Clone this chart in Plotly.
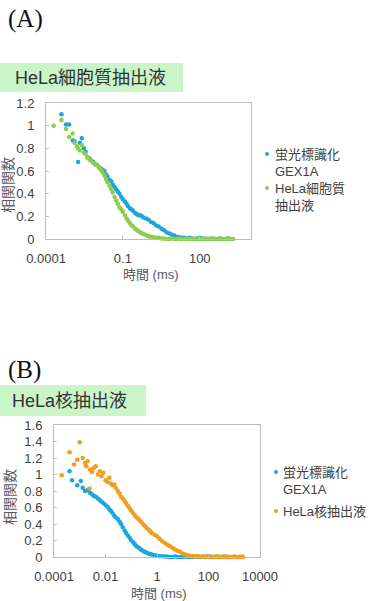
import plotly.graph_objects as go

# ---------------- data (time in ms, correlation values) ----------------
tA_blue = [0.0004, 0.0006, 0.0008, 0.0011, 0.0013, 0.0018, 0.0021, 0.0025, 0.003, 0.0035,
           0.0042, 0.005, 0.006, 0.007, 0.0083, 0.01, 0.012, 0.014, 0.016, 0.019,
           0.022, 0.025, 0.03, 0.035, 0.04, 0.047, 0.055, 0.063, 0.074, 0.087,
           0.1, 0.12, 0.14, 0.16, 0.19, 0.22, 0.25, 0.3, 0.35, 0.4,
           0.47, 0.55, 0.63, 0.8, 1.0, 1.25, 1.6, 2.0, 2.5, 3.2,
           4.0, 5.0, 6.3, 8.0, 10, 12.5, 16, 20, 25, 32,
           40, 50, 63, 80, 100, 125, 160, 200, 250, 320,
           400, 500, 630, 800, 1000, 1250, 1500]
gA_blue = [1.10, 1.01, 1.01, 0.87, 0.86, 0.68, 0.85, 0.89, 0.80, 0.77,
           0.72, 0.71, 0.69, 0.68, 0.66, 0.65, 0.63, 0.62, 0.61, 0.60,
           0.57, 0.55, 0.52, 0.51, 0.48, 0.46, 0.44, 0.42, 0.40, 0.37,
           0.35, 0.33, 0.31, 0.29, 0.27, 0.26, 0.25, 0.23, 0.22, 0.21,
           0.21, 0.20, 0.19, 0.18, 0.17, 0.15, 0.14, 0.12, 0.11, 0.09,
           0.08, 0.06, 0.05, 0.04, 0.03, 0.02, 0.015, 0.01, 0.01, 0.005,
           0.01, 0.005, 0.0, 0.005, 0.01, 0.0, 0.005, 0.0, 0.0, 0.005,
           0.0, 0.0, 0.005, 0.0, 0.0, 0.005, 0.0]

tA_green = [0.0002, 0.0004, 0.0006, 0.0008, 0.0011, 0.0013, 0.0016, 0.0018, 0.0021, 0.0025,
            0.003, 0.0035, 0.0042, 0.005, 0.006, 0.007, 0.0083, 0.01, 0.012, 0.014,
            0.016, 0.019, 0.022, 0.025, 0.03, 0.035, 0.04, 0.047, 0.055, 0.063,
            0.074, 0.087, 0.1, 0.12, 0.14, 0.16, 0.19, 0.22, 0.25, 0.3,
            0.35, 0.4, 0.47, 0.55, 0.63, 0.8, 1.0, 1.25, 1.6, 2.0,
            2.5, 3.2, 4.0, 5.0, 6.3, 8.0, 10, 12.5, 16, 20,
            25, 32, 40, 50, 63, 80, 100, 125, 160, 200,
            250, 320, 400, 500, 630, 800, 1000, 1250, 1600, 2000]
gA_green = [1.00, 1.05, 0.97, 0.90, 0.93, 0.85, 0.82, 0.80, 0.78, 0.83,
            0.76, 0.75, 0.72, 0.70, 0.69, 0.67, 0.66, 0.65, 0.63, 0.61,
            0.59, 0.56, 0.53, 0.50, 0.47, 0.44, 0.41, 0.37, 0.34, 0.31,
            0.28, 0.26, 0.24, 0.21, 0.18, 0.16, 0.14, 0.12, 0.11, 0.09,
            0.08, 0.07, 0.06, 0.05, 0.045, 0.035, 0.025, 0.02, 0.015, 0.01,
            0.01, 0.005, 0.005, 0.0, 0.0, 0.005, 0.0, 0.0, 0.005, 0.0,
            0.0, 0.005, 0.0, 0.0, 0.005, 0.0, 0.0, 0.005, 0.0, 0.0,
            0.005, 0.0, 0.0, 0.0, 0.005, 0.0, 0.0, 0.005, 0.0, 0.0]

tB_blue = [0.0004, 0.0005, 0.0008, 0.0011, 0.0013, 0.0016, 0.002, 0.0025, 0.003, 0.0035,
           0.0042, 0.005, 0.006, 0.007, 0.0083, 0.01, 0.012, 0.014, 0.016, 0.019,
           0.022, 0.025, 0.03, 0.035, 0.04, 0.047, 0.055, 0.063, 0.074, 0.087,
           0.1, 0.12, 0.14, 0.16, 0.19, 0.22, 0.25, 0.3, 0.35, 0.4,
           0.47, 0.55, 0.63, 0.8, 1.0, 1.25, 1.6, 2.0, 2.5, 3.2,
           4.0, 5.0, 6.3, 8.0, 10, 12.5, 16, 20, 25, 32,
           40, 50, 63, 80, 100, 125, 160, 200, 250, 320,
           400, 500, 600]
gB_blue = [1.04, 0.93, 0.87, 0.92, 0.84, 0.80, 0.81, 0.78, 0.76, 0.74,
           0.73, 0.71, 0.69, 0.67, 0.65, 0.63, 0.61, 0.58, 0.56, 0.53,
           0.50, 0.48, 0.46, 0.43, 0.40, 0.36, 0.32, 0.29, 0.26, 0.23,
           0.20, 0.175, 0.15, 0.13, 0.115, 0.10, 0.085, 0.07, 0.06, 0.05,
           0.04, 0.035, 0.03, 0.02, 0.015, 0.01, 0.008, 0.005, 0.005, 0.0,
           0.0, 0.005, 0.0, 0.0, 0.0, 0.005, 0.0, 0.0, 0.0, 0.005,
           0.0, 0.0, 0.005, 0.0, 0.01, 0.0, 0.0, 0.005, 0.0, 0.0,
           0.005, 0.0, 0.0]

tB_orange = [0.0002, 0.0004, 0.0006, 0.0008, 0.001, 0.0013, 0.0016, 0.0018, 0.002, 0.0024,
             0.0025, 0.003, 0.0035, 0.0042, 0.005, 0.006, 0.007, 0.0083, 0.01, 0.012,
             0.014, 0.016, 0.019, 0.022, 0.025, 0.03, 0.035, 0.04, 0.047, 0.055,
             0.063, 0.074, 0.087, 0.1, 0.12, 0.14, 0.16, 0.19, 0.22, 0.25,
             0.3, 0.35, 0.4, 0.47, 0.55, 0.63, 0.8, 1.0, 1.25, 1.6,
             2.0, 2.5, 3.2, 4.0, 5.0, 6.3, 8.0, 10, 12.5, 16,
             20, 25, 32, 40, 50, 63, 80, 100, 125, 160,
             200, 250, 320, 400, 500, 630, 800, 1000, 1250, 1600,
             2000, 2200]
gB_orange = [0.99, 1.27, 1.12, 1.18, 1.39, 1.20, 1.14, 1.10, 1.16, 0.83,
             1.06, 1.03, 1.08, 1.10, 1.00, 1.04, 0.98, 1.02, 0.93, 0.91,
             0.96, 0.89, 0.87, 0.88, 0.84, 0.80, 0.77, 0.73, 0.71, 0.68,
             0.65, 0.62, 0.59, 0.56, 0.53, 0.50, 0.48, 0.46, 0.44, 0.42,
             0.39, 0.37, 0.35, 0.33, 0.31, 0.29, 0.27, 0.25, 0.22, 0.19,
             0.17, 0.15, 0.13, 0.11, 0.09, 0.075, 0.06, 0.04, 0.03, 0.02,
             0.012, 0.008, 0.005, 0.01, 0.003, 0.0, 0.005, 0.0, 0.005, 0.0,
             0.0, 0.005, 0.0, 0.0, 0.005, 0.0, 0.0, 0.005, 0.0, 0.0,
             0.005, 0.0]

TICKS_A = ["0.0001", "0.1", "100"]
TICKS_B = ["0.0001", "0.01", "1", "100", "10000"]

NAME_BLUE = "蛍光標識化<br>GEX1A"
NAME_GREEN = "HeLa細胞質<br>抽出液"
NAME_ORANGE = "HeLa核抽出液"
TITLE_A = "HeLa細胞質抽出液"
TITLE_B = "HeLa核抽出液"
XTITLE = "時間 (ms)"
YTITLE = "相関関数"

# ---------------- styling ----------------
W, H = 369, 601
BLUE = "#1ca6dc"
GREEN = "#8fcc4c"
ORANGE = "#f29d1c"
BANNER = "#c9f5c9"
AXIS = "#bcbcbc"
TXT = "#404040"
FONT = "Liberation Sans, Arial, Noto Sans CJK JP, sans-serif"
MS = 4.5


def px(x):
    return x / W


def py(y):
    return 1 - y / H


fig = go.Figure()
for xs, ys, col, xa, ya in [
    (tA_blue, gA_blue, BLUE, "x", "y"),
    (tA_green, gA_green, GREEN, "x", "y"),
    (tB_blue, gB_blue, BLUE, "x2", "y2"),
    (tB_orange, gB_orange, ORANGE, "x2", "y2"),
]:
    fig.add_trace(go.Scatter(x=xs, y=ys, mode="markers", xaxis=xa, yaxis=ya,
                             marker=dict(color=col, size=MS, line=dict(width=0)),
                             cliponaxis=False, showlegend=False, hoverinfo="skip"))

common_x = dict(type="log", range=[-4, 4], ticks="inside", ticklen=3, tickcolor=AXIS,
                showline=True, linecolor=AXIS, linewidth=1, mirror=True, showgrid=False,
                zeroline=False, automargin=False,
                tickfont=dict(family=FONT, size=13, color=TXT), ticklabelstandoff=7)
common_y = dict(ticks="inside", ticklen=3, tickcolor=AXIS, dtick=0.2,
                showline=True, linecolor=AXIS, linewidth=1, mirror=True, showgrid=False,
                zeroline=False, automargin=False,
                tickfont=dict(family=FONT, size=13, color=TXT), ticklabelstandoff=8)

fig.update_layout(
    template="none",
    width=W, height=H, margin=dict(l=0, r=0, t=0, b=0, pad=0, autoexpand=False),
    paper_bgcolor="white", plot_bgcolor="white", showlegend=False,
    xaxis=dict(common_x, domain=[px(46), px(251)], anchor="y",
               tickvals=[float(s) for s in TICKS_A], ticktext=TICKS_A),
    yaxis=dict(common_y, domain=[py(239), py(103)], anchor="x", range=[0, 1.2]),
    xaxis2=dict(common_x, domain=[px(54), px(260)], anchor="y2",
                tickvals=[float(s) for s in TICKS_B], ticktext=TICKS_B),
    yaxis2=dict(common_y, domain=[py(557), py(425)], anchor="x2", range=[0, 1.6]),
)

shapes = [
    dict(type="rect", xref="paper", yref="paper", x0=0, x1=px(183), y0=py(92), y1=py(63),
         fillcolor=BANNER, line=dict(width=0), layer="below"),
    dict(type="rect", xref="paper", yref="paper", x0=0, x1=px(146), y0=py(416), y1=py(385),
         fillcolor=BANNER, line=dict(width=0), layer="below"),
]
for cx, cy, col in [(267, 154, BLUE), (267, 188, GREEN), (276, 472, BLUE), (276, 511, ORANGE)]:
    shapes.append(dict(type="circle", xref="paper", yref="paper", xsizemode="pixel",
                       ysizemode="pixel", xanchor=px(cx), yanchor=py(cy),
                       x0=-2, x1=2, y0=-2, y1=2, fillcolor=col, line=dict(width=0)))
fig.update_layout(shapes=shapes)

ann = []


def add_text(text, x, y, size, xanchor="left", yanchor="middle", color=TXT,
             family=FONT, angle=0):
    ann.append(dict(text=text, x=px(x), y=py(y), xref="paper", yref="paper",
                    xanchor=xanchor, yanchor=yanchor, showarrow=False, textangle=angle,
                    align="left", borderpad=0,
                    font=dict(family=family, size=size, color=color)))


add_text("(A)", 7, 19, 25, color="#111111", family="Liberation Serif, DejaVu Serif, serif")
add_text("(B)", 7, 370, 25, color="#111111", family="Liberation Serif, DejaVu Serif, serif")
add_text(TITLE_A, 14, 78, 18, color="#333333")
add_text(TITLE_B, 11, 401, 18, color="#333333")
add_text(XTITLE, 151, 274, 13, xanchor="center", color="#595959")
add_text(XTITLE, 159, 593, 13, xanchor="center", color="#595959")
add_text(YTITLE, 8, 185, 14, xanchor="center", color="#595959", angle=-90)
add_text(YTITLE, 10, 497, 14, xanchor="center", color="#595959", angle=-90)
add_text(NAME_BLUE, 274, 146, 13, yanchor="top")
add_text(NAME_GREEN, 274, 180, 13, yanchor="top")
add_text(NAME_BLUE, 282, 464, 13, yanchor="top")
add_text(NAME_ORANGE, 282, 503, 13, yanchor="top")
fig.update_layout(annotations=ann)

fig.write_html("out.html", config={"displayModeBar": False},
               post_script="document.body.style.margin='0';")
